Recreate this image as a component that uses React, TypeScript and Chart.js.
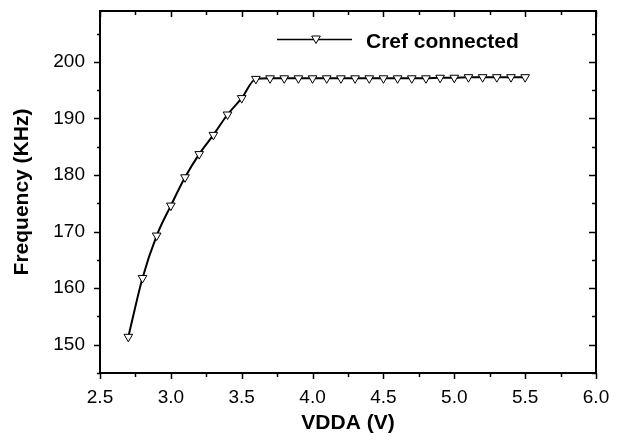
import React, { useEffect, useRef } from 'react';
import { Chart, registerables } from 'chart.js';

Chart.register(...registerables);

const vdda = [
  2.7, 2.8, 2.9, 3.0, 3.1, 3.2, 3.3, 3.4, 3.5, 3.6,
  3.7, 3.8, 3.9, 4.0, 4.1, 4.2, 4.3, 4.4, 4.5, 4.6,
  4.7, 4.8, 4.9, 5.0, 5.1, 5.2, 5.3, 5.4, 5.5,
];
const freqCref = [
  151.4, 161.8, 169.3, 174.6, 179.6, 183.7, 187.1, 190.7, 193.6, 197.0,
  197.1, 197.1, 197.1, 197.1, 197.1, 197.1, 197.1, 197.1, 197.1, 197.1,
  197.1, 197.1, 197.2, 197.2, 197.3, 197.3, 197.3, 197.3, 197.3,
];
const xTickValues = [2.5, 3.0, 3.5, 4.0, 4.5, 5.0, 5.5, 6.0];
const yTickValues = [150, 160, 170, 180, 190, 200];
const seriesLabel = 'Cref connected';
const xTitle = 'VDDA (V)';
const yTitle = 'Frequency (KHz)';

const FONT = 'Arial, "Liberation Sans", Helvetica, sans-serif';

const framePlugin = {
  id: 'frameTicks',
  afterDraw(chart: any) {
    const ctx = chart.ctx as CanvasRenderingContext2D;
    const a = chart.chartArea;
    const xs = chart.scales.x;
    const ys = chart.scales.y;
    ctx.save();
    ctx.strokeStyle = '#000';
    ctx.lineWidth = 1.5;
    const xMin = xs.min, xMax = xs.max, yMax = ys.max;
    ctx.beginPath();
    for (let i = 0; i <= Math.round((xMax - xMin) / 0.25); i++) {
      const v = xMin + i * 0.25;
      const major = i % 2 === 0;
      const px = Math.round(xs.getPixelForValue(v)) + 0.5;
      ctx.moveTo(px, a.bottom);
      ctx.lineTo(px, a.bottom + (major ? 6 : 4));
      ctx.moveTo(px, a.top);
      ctx.lineTo(px, a.top + (major ? 6 : 4));
    }
    for (let v = 145; v <= yMax + 0.001; v += 5) {
      const major = v % 10 === 0;
      const py = Math.round(ys.getPixelForValue(v)) + 0.5;
      ctx.moveTo(a.left, py);
      ctx.lineTo(a.left - (major ? 6 : 3), py);
      ctx.moveTo(a.right, py);
      ctx.lineTo(a.right - (major ? 7 : 4), py);
    }
    ctx.stroke();
    ctx.lineWidth = 2;
    ctx.strokeRect(a.left, a.top, a.right - a.left, a.bottom - a.top);

    // legend
    const ly = a.top + 28.5;
    const lx0 = a.left + 177;
    const lx1 = a.left + 252;
    ctx.lineWidth = 1.5;
    ctx.beginPath();
    ctx.moveTo(lx0, ly);
    ctx.lineTo(lx1, ly);
    ctx.stroke();
    const cx = a.left + 216;
    const cy = ly - 1;
    const r = 5;
    ctx.beginPath();
    ctx.moveTo(cx, cy + r);
    ctx.lineTo(cx - r * 0.866, cy - r / 2);
    ctx.lineTo(cx + r * 0.866, cy - r / 2);
    ctx.closePath();
    ctx.fillStyle = '#fff';
    ctx.fill();
    ctx.lineWidth = 1;
    ctx.stroke();
    ctx.fillStyle = '#000';
    ctx.font = `bold 21px ${FONT}`;
    ctx.textAlign = 'left';
    ctx.textBaseline = 'middle';
    ctx.fillText(seriesLabel, a.left + 266, ly + 3);
    ctx.restore();
  },
};

export default function App() {
  const ref = useRef<HTMLCanvasElement | null>(null);
  useEffect(() => {
    if (!ref.current) return;
    const chart = new Chart(ref.current, {
      type: 'line',
      data: {
        datasets: [
          {
            label: seriesLabel,
            data: vdda.map((x, i) => ({ x, y: freqCref[i] })),
            borderColor: '#000',
            borderWidth: 2,
            backgroundColor: '#fff',
            pointStyle: 'triangle',
            rotation: 180,
            pointRadius: 5,
            pointBorderWidth: 1,
            pointBorderColor: '#000',
            pointBackgroundColor: '#fff',
            cubicInterpolationMode: 'monotone',
            fill: false,
          },
        ],
      },
      options: {
        responsive: false,
        animation: false,
        events: [],
        layout: { padding: { left: 0, top: 0, right: 34, bottom: 0 } },
        plugins: { legend: { display: false }, tooltip: { enabled: false } },
        scales: {
          x: {
            type: 'linear',
            min: 2.5,
            max: 6.0,
            afterFit: (s: any) => {
              s.height = 67;
              s.paddingLeft = 0;
              s.paddingRight = 0;
            },
            afterBuildTicks: (s: any) => { s.ticks = xTickValues.map((v) => ({ value: v })); },
            grid: { display: false, drawTicks: false },
            border: { display: false },
            ticks: {
              color: '#000',
              padding: 15,
              font: { family: FONT, size: 19, lineHeight: 1 },
              callback: (v: any) => Number(v).toFixed(1),
            },
            title: {
              display: true,
              text: xTitle,
              color: '#000',
              font: { family: FONT, size: 21, weight: 'bold', lineHeight: 1 },
              padding: { top: 0, bottom: 6 },
            },
          },
          y: {
            type: 'linear',
            min: 145,
            max: 209,
            afterFit: (s: any) => {
              s.width = 100;
              s.paddingTop = 11;
              s.paddingBottom = 0;
            },
            afterBuildTicks: (s: any) => { s.ticks = yTickValues.map((v) => ({ value: v })); },
            grid: { display: false, drawTicks: false },
            border: { display: false },
            ticks: {
              color: '#000',
              padding: 15,
              font: { family: FONT, size: 19, lineHeight: 1 },
              callback: (v: any) => String(v),
            },
            title: {
              display: true,
              text: yTitle,
              color: '#000',
              font: { family: FONT, size: 21, weight: 'bold', lineHeight: 1 },
              padding: { top: 12, bottom: 0 },
            },
          },
        },
      },
      plugins: [framePlugin],
    });
    return () => chart.destroy();
  }, []);
  return (
    <div style={{ position: 'absolute', left: 0, top: 0, width: 630, height: 440, background: '#fff' }}>
      <canvas ref={ref} width={630} height={440} style={{ display: 'block' }} />
    </div>
  );
}
